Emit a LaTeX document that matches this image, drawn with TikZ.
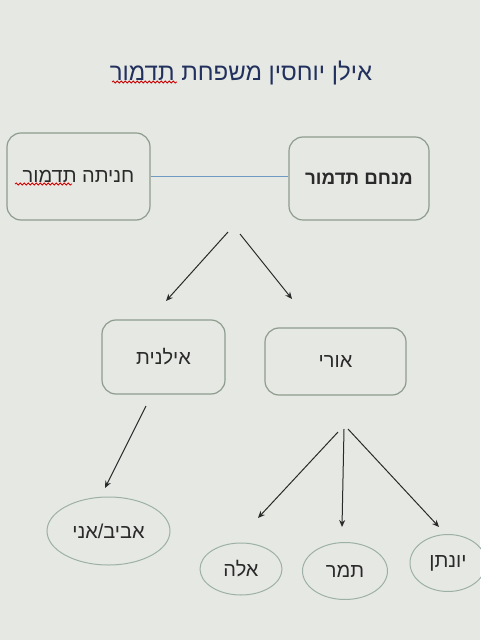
\documentclass[tikz,border=0pt]{standalone}
\usepackage{fontspec}
\setmainfont{Liberation Sans}
\newfontfamily\hebfont[Script=Hebrew]{Liberation Sans}
\TeXXeTstate=1
\usetikzlibrary{positioning,arrows.meta,decorations.pathmorphing,shapes.geometric}
\definecolor{paper}{HTML}{E6E8E3}
\definecolor{edge}{HTML}{8E9C8E}
\definecolor{oval}{HTML}{9DB0A8}
\definecolor{titleblue}{HTML}{22305E}
\definecolor{pairline}{HTML}{6F9BC2}
\definecolor{ink}{HTML}{2A2A2A}
\tikzset{
  box/.style={draw=edge, rounded corners=7pt, line width=0.6pt, text=ink},
  person/.style={draw=oval, ellipse, line width=0.5pt, text=ink, inner sep=0pt},
  child/.style={draw=ink, line width=0.5pt, -{Stealth[length=3.5pt,width=3pt]}},
  squiggle/.style={red!80!black, decorate, decoration={snake, amplitude=0.5pt, segment length=2pt}, line width=0.4pt}
}
\begin{document}
\begin{tikzpicture}[x=0.5pt, y=-0.5pt, font=\hebfont\fontsize{10}{12}\selectfont]
	\fill[paper] (0,0) rectangle (480,640);
	\useasboundingbox (0,0) rectangle (480,640);
	\node[text=titleblue, font=\hebfont\fontsize{12}{14}\selectfont] (title) at (241,73) {\beginR אילן יוחסין משפחת תדמור\endR};
	\draw[squiggle] (112,82) -- (177,82); %spell check mark
	% parents
	\node[box, minimum width=71.5pt, minimum height=43.5pt] (h) at (78.5,176.5) {\beginR חניתה תדמור\endR};
	\node[box, minimum width=70pt, minimum height=41.5pt, font=\hebfont\bfseries\fontsize{9.4}{12}\selectfont] (m) at (359,178.5) {\beginR מנחם תדמור\endR};
	\draw[squiggle] (15,184) -- (72,184);
	% children
	\node[box, minimum width=61.5pt, minimum height=37pt] (i) at (163.5,357) {\beginR אילנית\endR};
	\node[box, minimum width=70.5pt, minimum height=33.5pt] (u) at (335.5,361.5) {\beginR אורי\endR};
	% grandchildren
	\node[person, minimum width=61.5pt, minimum height=34pt] (v) at (108.5,531) {\beginR אביב/אני\endR};
	\node[person, minimum width=41pt, minimum height=26pt] (e) at (241,569) {\beginR אלה\endR};
	\node[person, minimum width=42.5pt, minimum height=28.5pt] (t) at (345,571) {\beginR תמר\endR};
	\node[person, minimum width=38pt, minimum height=28.5pt] (y) at (448,563) {\beginR יונתן\endR};
	% arrow ends
	\coordinate (p1) at (228,232);
	\coordinate (p2) at (240,234);
	\coordinate (q1) at (166,301);
	\coordinate (q2) at (292,299);
	\coordinate (r) at (146,406);
	\coordinate (r1) at (105,488);
	\coordinate (s1) at (338,432);
	\coordinate (s2) at (344,429);
	\coordinate (s3) at (348,429);
	\coordinate (e1) at (258,518);
	\coordinate (t1) at (342,527);
	\coordinate (y1) at (439,527);
	\draw[pairline, line width=0.6pt] (h.east) -- (h.east -| m.west);
	\draw[child] (p1) -- (q1);
	\draw[child] (p2) -- (q2);
	\draw[child] (r) -- (r1);
	\draw[child] (s1) -- (e1);
	\draw[child] (s2) -- (t1);
	\draw[child] (s3) -- (y1);
\end{tikzpicture}
\end{document}
